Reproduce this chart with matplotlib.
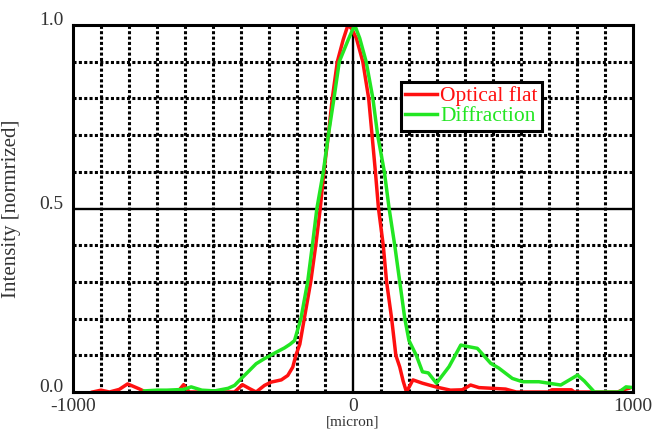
import matplotlib
matplotlib.use("Agg")
import matplotlib.pyplot as plt

# ---- data ----
flat_x = [-930, -900, -870, -835, -805, -765, -740, -640, -620, -605, -585, -450, -423,
          -395, -369, -346, -316, -292, -256, -233, -215, -204, -190, -174, -151, -133,
          -117, -104, -88, -74, -56, -35, -18, -5, 12, 35, 56, 68, 80, 91, 108, 120, 138,
          153, 167, 179, 191, 214, 248, 295, 348, 390, 420, 450, 498, 545, 583, 700, 710,
          745, 780, 790, 945, 965, 985]
flat_y = [0.0, 0.005, 0.0, 0.007, 0.022, 0.009, 0.0, 0.0, 0.006, 0.02, 0.0, 0.0, 0.0,
          0.02, 0.009, 0.0, 0.018, 0.027, 0.033, 0.045, 0.068, 0.10, 0.13, 0.2, 0.3, 0.4,
          0.5, 0.6, 0.7, 0.8, 0.9, 0.96, 1.0, 0.99, 0.964, 0.9, 0.8, 0.7, 0.6, 0.5, 0.4,
          0.3, 0.2, 0.1, 0.068, 0.03, 0.0, 0.033, 0.024, 0.014, 0.005, 0.006, 0.019,
          0.012, 0.01, 0.008, 0.0, 0.0, 0.006, 0.006, 0.006, 0.0, 0.0, 0.006, 0.01]

diff_x = [-745, -700, -665, -605, -578, -540, -494, -446, -423, -400, -376, -346, -316,
          -280, -245, -225, -209, -186, -162, -145, -129, -106, -88, -68, -49, -17, 6, 24,
          47, 71, 88, 112, 129, 149, 167, 185, 200, 226, 248, 269, 298, 343, 385, 402,
          444, 492, 521, 569, 605, 664, 742, 802, 826, 862, 950, 975, 1000]
diff_y = [0.003, 0.005, 0.005, 0.007, 0.014, 0.005, 0.003, 0.01, 0.018, 0.036, 0.054,
          0.077, 0.091, 0.106, 0.12, 0.13, 0.14, 0.2, 0.3, 0.4, 0.5, 0.6, 0.7, 0.8, 0.9,
          0.96, 1.0, 0.964, 0.9, 0.8, 0.7, 0.6, 0.5, 0.4, 0.3, 0.2, 0.14, 0.1, 0.055,
          0.052, 0.024, 0.069, 0.128, 0.125, 0.119, 0.078, 0.065, 0.037, 0.028, 0.028,
          0.019, 0.046, 0.03, 0.0, 0.0, 0.014, 0.012]

series_labels = ["Optical flat", "Diffraction"]
x_ticks = [-1000, 0, 1000]
x_tick_labels = ["-1000", "0", "1000"]
y_ticks = [0.0, 0.5, 1.0]
y_tick_labels = ["0.0", "0.5", "1.0"]
x_grid = [v for v in range(-900, 1000, 100) if v != 0]
y_grid = [v / 10 for v in range(1, 10) if v != 5]

plt.rcParams['font.family'] = ['Liberation Serif', 'DejaVu Serif']

fig = plt.figure(figsize=(6.53, 4.30), dpi=100)
ax = fig.add_axes([73 / 653, 1 - 392 / 430, 560 / 653, 367 / 430])

dot = (0, (1.0, 0.75))
for gx in x_grid:
    ax.axvline(gx, color='black', lw=2.2, ls=dot, zorder=1)
for gy in y_grid:
    ax.axhline(gy, color='black', lw=2.2, ls=dot, zorder=1)
ax.axvline(0, color='black', lw=1.7, zorder=1)
ax.axhline(0.5, color='black', lw=1.7, zorder=1)

ax.plot(flat_x, flat_y, color='#ff1010', lw=2.5, label=series_labels[0], zorder=3,
        solid_joinstyle='round')
ax.plot(diff_x, diff_y, color='#22e622', lw=2.5, label=series_labels[1], zorder=3,
        solid_joinstyle='round')

ax.set_xlim(-1000, 1000)
ax.set_ylim(0, 1.0)
ax.set_xticks(x_ticks)
ax.set_xticklabels(x_tick_labels)
ax.set_yticks(y_ticks)
ax.set_yticklabels(y_tick_labels)
ax.tick_params(length=0, labelsize=14, labelcolor='#333333')
ax.tick_params(axis='x', pad=4)
ax.tick_params(axis='y', pad=7)
for lbl in ax.get_yticklabels():
    lbl.set_va('baseline')

for sp in ax.spines.values():
    sp.set_linewidth(2.2)
    sp.set_color('black')
    sp.set_zorder(5)

ax.set_ylabel("Intensity [normrized]", fontsize=15, color='#333333')
ax.yaxis.set_label_coords(-0.092, 0.5)
ax.set_xlabel("[micron]", fontsize=11, color='#333333')
ax.xaxis.set_label_coords(0.5, -0.063)

leg = ax.legend(loc='upper left', bbox_to_anchor=(0.585, 0.845), fontsize=15.5,
                labelcolor='linecolor', frameon=True, fancybox=False,
                handlelength=1.5, handletextpad=0.15, borderpad=0.2,
                labelspacing=0.0, borderaxespad=0)
leg.get_frame().set_edgecolor('black')
leg.get_frame().set_linewidth(2.2)
leg.get_frame().set_alpha(1)
leg.set_zorder(6)

fig.savefig("out.png", dpi=100)
